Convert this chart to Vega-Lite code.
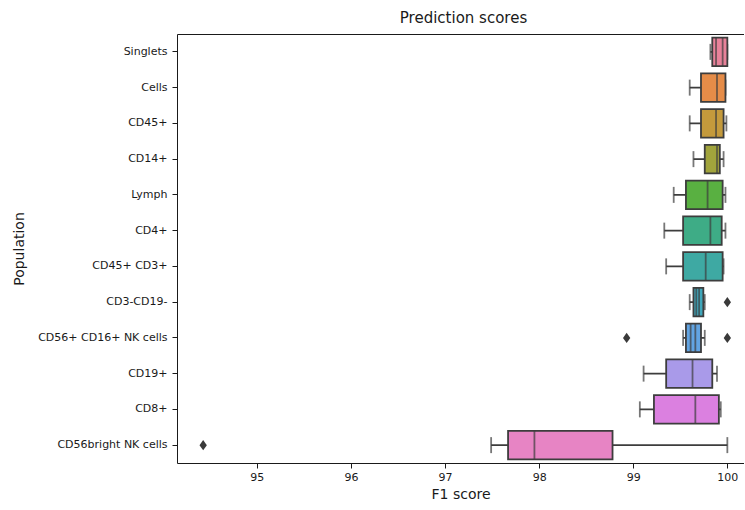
{
  "$schema": "https://vega.github.io/schema/vega-lite/v6.json",
  "width": 567,
  "height": 429,
  "padding": {"left": 12, "top": 11, "right": 0, "bottom": 0},
  "title": {"text": "Prediction scores", "fontSize": 15, "fontWeight": "normal", "font": "DejaVu Sans", "color": "#1a1a1a", "offset": 8, "dx": 3},
  "config": {
    "view": {"stroke": null},
    "font": "DejaVu Sans",
    "axis": {"labelFont": "DejaVu Sans", "titleFont": "DejaVu Sans", "labelColor": "#1a1a1a", "titleColor": "#1a1a1a", "domainColor": "#1a1a1a", "tickColor": "#1a1a1a", "grid": false, "titleFontWeight": "normal"}
  },
  "datasets": {
    "boxes": [
      {"pop": "Singlets", "min": 99.82, "q1": 99.84, "median": 99.88, "mid2": 99.95, "q3": 100.0, "max": 100.0},
      {"pop": "Cells", "min": 99.60, "q1": 99.72, "median": 99.89, "mid2": null, "q3": 99.98, "max": 99.98},
      {"pop": "CD45+", "min": 99.60, "q1": 99.72, "median": 99.88, "mid2": null, "q3": 99.96, "max": 99.99},
      {"pop": "CD14+", "min": 99.64, "q1": 99.76, "median": 99.89, "mid2": null, "q3": 99.92, "max": 99.96},
      {"pop": "Lymph", "min": 99.43, "q1": 99.56, "median": 99.79, "mid2": null, "q3": 99.95, "max": 99.98},
      {"pop": "CD4+", "min": 99.33, "q1": 99.53, "median": 99.82, "mid2": null, "q3": 99.94, "max": 99.98},
      {"pop": "CD45+ CD3+", "min": 99.35, "q1": 99.53, "median": 99.77, "mid2": null, "q3": 99.95, "max": 99.96},
      {"pop": "CD3-CD19-", "min": 99.60, "q1": 99.64, "median": 99.67, "mid2": 99.70, "q3": 99.745, "max": 99.76},
      {"pop": "CD56+ CD16+ NK cells", "min": 99.53, "q1": 99.56, "median": 99.61, "mid2": 99.66, "q3": 99.72, "max": 99.76},
      {"pop": "CD19+", "min": 99.11, "q1": 99.35, "median": 99.63, "mid2": null, "q3": 99.84, "max": 99.89},
      {"pop": "CD8+", "min": 99.07, "q1": 99.22, "median": 99.66, "mid2": null, "q3": 99.91, "max": 99.93},
      {"pop": "CD56bright NK cells", "min": 97.49, "q1": 97.67, "median": 97.95, "mid2": null, "q3": 98.78, "max": 100.0}
    ],
    "outliers": [
      {"pop": "CD3-CD19-", "value": 100.0},
      {"pop": "CD56+ CD16+ NK cells", "value": 98.93},
      {"pop": "CD56+ CD16+ NK cells", "value": 100.0},
      {"pop": "CD56bright NK cells", "value": 94.43}
    ]
  },
  "encoding": {
    "y": {
      "field": "pop", "type": "nominal",
      "sort": ["Singlets", "Cells", "CD45+", "CD14+", "Lymph", "CD4+", "CD45+ CD3+", "CD3-CD19-", "CD56+ CD16+ NK cells", "CD19+", "CD8+", "CD56bright NK cells"],
      "scale": {"paddingInner": 0, "paddingOuter": 0},
      "axis": {"title": "Population", "titleFontSize": 14, "titlePadding": 11, "labelFontSize": 11, "labelPadding": 5, "tickSize": 5, "domain": true, "labelLimit": 300}
    }
  },
  "layer": [
    {
      "data": {"name": "boxes"},
      "mark": {"type": "rule", "color": "#3d3d3d", "strokeWidth": 1.8},
      "encoding": {
        "x": {"field": "min", "type": "quantitative", "scale": {"domain": [94.152, 100.177], "nice": false, "zero": false},
              "axis": {"orient": "bottom", "title": "F1 score", "titleFontSize": 14, "titlePadding": 5, "labelFontSize": 11, "labelPadding": 3, "tickSize": 5, "values": [95, 96, 97, 98, 99, 100], "format": "d", "domain": true}},
        "x2": {"field": "max"}
      }
    },
    {
      "data": {"name": "boxes"},
      "mark": {"type": "tick", "color": "#3d3d3d", "thickness": 1.8, "size": 16, "orient": "vertical"},
      "encoding": {"x": {"field": "min", "type": "quantitative", "axis": null}}
    },
    {
      "data": {"name": "boxes"},
      "mark": {"type": "tick", "color": "#3d3d3d", "thickness": 1.8, "size": 16, "orient": "vertical"},
      "encoding": {"x": {"field": "max", "type": "quantitative", "axis": null}}
    },
    {
      "data": {"name": "boxes"},
      "mark": {"type": "bar", "stroke": "#3d3d3d", "strokeWidth": 1.8, "height": {"band": 0.8}},
      "encoding": {
        "x": {"field": "q1", "type": "quantitative", "axis": null},
        "x2": {"field": "q3"},
        "color": {"field": "pop", "type": "nominal", "legend": null,
          "scale": {"domain": ["Singlets", "Cells", "CD45+", "CD14+", "Lymph", "CD4+", "CD45+ CD3+", "CD3-CD19-", "CD56+ CD16+ NK cells", "CD19+", "CD8+", "CD56bright NK cells"],
                    "range": ["#e8829a", "#e58c48", "#c49a3c", "#a1a43c", "#59b041", "#3eac86", "#3ea9a3", "#3fa6ba", "#62a4e2", "#a99ae9", "#db80e0", "#e784c4"]}},
        "opacity": {"value": 1}
      }
    },
    {
      "data": {"name": "boxes"},
      "mark": {"type": "tick", "color": "#3d3d3d", "thickness": 1.8, "size": 28.6, "orient": "vertical"},
      "encoding": {"x": {"field": "median", "type": "quantitative", "axis": null}}
    },
    {
      "data": {"name": "boxes"},
      "transform": [{"filter": "isValid(datum.mid2)"}],
      "mark": {"type": "tick", "color": "#3d3d3d", "thickness": 1.8, "size": 28.6, "orient": "vertical"},
      "encoding": {"x": {"field": "mid2", "type": "quantitative", "axis": null}}
    },
    {
      "data": {"name": "outliers"},
      "mark": {"type": "point", "shape": "M0,-1L0.7,0L0,1L-0.7,0Z", "filled": true, "color": "#3a3a3a", "size": 110, "opacity": 1},
      "encoding": {"x": {"field": "value", "type": "quantitative", "axis": {"orient": "top", "labels": false, "ticks": false, "title": null, "domain": true}}}
    }
  ],
  "resolve": {"axis": {"x": "independent"}}
}
